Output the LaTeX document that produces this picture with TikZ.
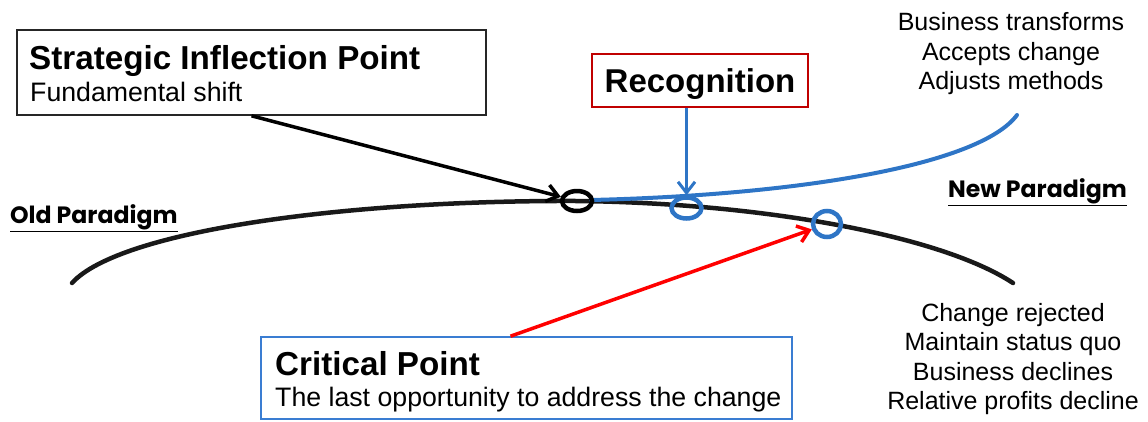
\documentclass[tikz,border=0pt]{standalone}
\usepackage{fontspec}
\setmainfont{Liberation Sans}
\newfontfamily\paradigmfont{Poppins}
\usetikzlibrary{shapes.geometric,arrows.meta}
\definecolor{shiftblue}{RGB}{46,117,198}
\definecolor{boxred}{RGB}{192,0,0}
\definecolor{boxblue}{RGB}{58,125,210}

\tikzset{
  labelbox/.style={draw, line width=1.6pt, inner sep=0pt},
  ring/.style={ellipse, draw, line width=4.5pt, inner sep=0pt},
  pointer/.style={line width=3.5pt, -{Straight Barb[length=11pt,width=17pt]}},
  headline/.style={inner sep=0pt, anchor=base west, font=\fontsize{33.2}{37}\selectfont\bfseries},
  subline/.style={inner sep=0pt, anchor=base west, font=\fontsize{26.7}{30}\selectfont},
  outcome/.style={inner sep=0pt, align=center, font=\fontsize{25}{29.5}\selectfont},
  paradigm/.style={inner sep=0pt, anchor=base west, font=\fontsize{23.6}{27}\paradigmfont\bfseries}
}

\begin{document}
\begin{tikzpicture}[x=1pt,y=-1pt]
\useasboundingbox (0,0) rectangle (1148,421);
\node[labelbox, draw=black!85, minimum width=469pt, minimum height=85pt] at (251.5,72.5) (sip) {};
\node[headline] at (29,69) (siptitle) {Strategic Inflection Point};
\node[subline] at (30,101) (sipsub) {Fundamental shift};
\node[labelbox, draw=boxred, minimum width=216pt, minimum height=53pt, text depth=0pt, font=\fontsize{33}{37}\selectfont\bfseries] at (700,80.5) (rec) {Recognition};
\node[labelbox, draw=boxblue, minimum width=531pt, minimum height=82pt] at (526.5,378) (cp) {};
\node[headline] at (275,375) (cptitle) {Critical Point};
\node[subline] at (275,406) (cpsub) {The last opportunity to address the change};
\node[paradigm] at (10,223) (old) {\underline{Old Paradigm}};
\node[paradigm] at (948,197) (new) {\underline{New Paradigm}};
\node[outcome] at (1011,54) (accept) {Business transforms\\Accepts change\\Adjusts methods};
\node[outcome] at (1013,359) (reject) {Change rejected\\Maintain status quo\\Business declines\\Relative profits decline};
\coordinate (sippt) at (577,201);
\coordinate (recpt) at (686.5,208);
\coordinate (cppt) at (827,224);
\draw[color=black!90, line width=4.5pt, line cap=round] (72,283) .. controls (120,230) and (350,200) .. (sippt) .. controls (760,203) and (940,235) .. (1013,283);
\draw[color=shiftblue, line width=4pt, line cap=round] (591,200) .. controls (800,195) and (980,165) .. (1017,115);
\node[ring, draw=black, minimum width=30pt, minimum height=20pt] at (sippt) (sipc) {};
\node[ring, draw=shiftblue, minimum width=30pt, minimum height=21pt] at (recpt) (recc) {};
\node[ring, draw=shiftblue, minimum width=28pt, minimum height=26pt] at (cppt) (cpc) {};
\draw[pointer, color=black] (sip.south) -- (sipc);
\draw[pointer, color=shiftblue, line width=3pt] (rec.south -| recc) -- (recc);
\draw[pointer, color=red] ([xshift=-16pt]cp.north) -- (cpc);
\end{tikzpicture}
\end{document}
